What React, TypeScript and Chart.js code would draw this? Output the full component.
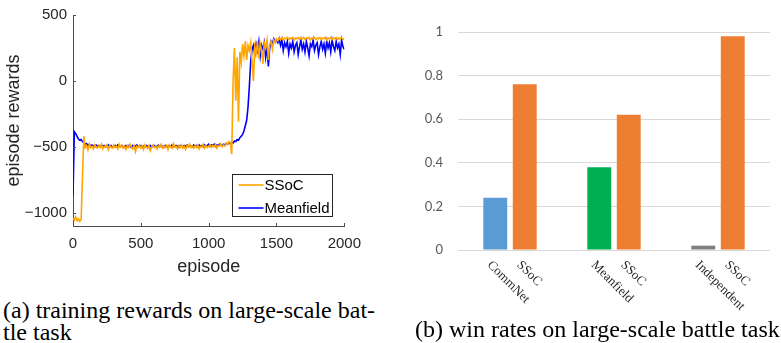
import React, { useEffect, useRef } from 'react';
import { Chart, registerables } from 'chart.js';

Chart.register(...registerables);

// ---------- (a) training rewards ----------
const EPISODE_STEP = 10;
const episodeTicks = [0, 500, 1000, 1500, 2000];
const rewardTicks = [500, 0, -500, -1000];

const ssocRewards = [
  -1040, -1055, -1030, -1060, -1045, -1065, -1050, -720, -420, -505,
  -490, -525, -480, -505, -495, -515, -485, -500, -510, -490,
  -505, -480, -515, -495, -505, -485, -520, -490, -500, -510,
  -485, -505, -495, -515, -480, -500, -490, -510, -495, -520,
  -490, -505, -480, -500, -515, -490, -535, -495, -505, -485,
  -510, -495, -520, -485, -500, -510, -490, -530, -500, -485,
  -505, -495, -515, -490, -500, -480, -510, -495, -505, -490,
  -520, -485, -500, -510, -475, -500, -495, -515, -490, -505,
  -485, -510, -495, -520, -490, -500, -480, -505, -495, -510,
  -490, -505, -485, -515, -495, -500, -480, -510, -490, -505,
  -495, -485, -505, -490, -500, -480, -510, -490, -495, -475,
  -500, -485, -495, -470, -480, -460, -470, -555, -10, 250,
  -150, 180, -310, 220, 140, 280, 190, 300, 160, 270,
  230, 290, 150, 0, 260, 210, 300, 170, 280, 230,
  130, 290, 250, 310, 160, 280, 300, 240, 310, 290,
  320, 305, 325, 315, 330, 310, 325, 320, 330, 315,
  325, 320, 330, 310, 325, 320, 330, 315, 325, 320,
  330, 315, 325, 320, 330, 310, 325, 320, 330, 315,
  325, 320, 330, 315, 325, 320, 330, 310, 325, 320,
  330, 315, 325, 320, 330, 315, 325, 320, 330, 315,
  320,
];

const meanfieldRewards = [
  -870, -385, -400, -420, -440, -450, -445, -460, -470, -480,
  -475, -490, -480, -495, -485, -490, -500, -485, -495, -490,
  -500, -485, -495, -490, -500, -495, -485, -500, -490, -505,
  -495, -490, -500, -485, -495, -500, -490, -505, -495, -490,
  -500, -490, -495, -505, -490, -500, -495, -485, -500, -495,
  -490, -505, -495, -500, -490, -495, -505, -490, -500, -495,
  -490, -500, -495, -485, -500, -490, -495, -505, -490, -500,
  -495, -490, -500, -485, -495, -500, -490, -495, -505, -490,
  -495, -500, -490, -495, -485, -500, -490, -495, -500, -485,
  -495, -490, -500, -485, -495, -490, -500, -485, -495, -490,
  -480, -495, -485, -490, -480, -495, -485, -490, -480, -485,
  -490, -480, -485, -475, -480, -470, -475, -465, -470, -455,
  -460, -445, -450, -430, -420, -405, -380, -340, -300, -200,
  -40, 150, 240, 270, 200, 280, 230, 300, 190, 270,
  240, 290, 180, 260, 110, 250, 300, 280, 320, 300,
  310, 290, 320, 270, 310, 230, 290, 260, 300, 210,
  280, 250, 300, 220, 270, 290, 200, 260, 310, 240,
  280, 220, 300, 250, 190, 280, 260, 310, 230, 270,
  290, 200, 260, 300, 240, 280, 210, 300, 250, 290,
  220, 310, 260, 230, 300, 250, 280, 200, 310, 260,
  240,
];

const lineLabels = ['SSoC', 'Meanfield'];
const lineColors = ['#FFA500', '#0000FF'];

// ---------- (b) win rates ----------
const barGroups = ['CommNet', 'Meanfield', 'Independent'];
const ssocLabel = 'SSoC';
const baselineRates = [0.24, 0.38, 0.02];
const ssocRates = [0.76, 0.62, 0.98];
const baselineColors = ['#5B9BD5', '#00B050', '#7F7F7F'];
const ssocColor = '#ED7D31';
const winTicks = [0, 0.2, 0.4, 0.6, 0.8, 1];

const AX_FONT = '"Liberation Sans", Arial, Helvetica, sans-serif';

const inwardTicks = {
  id: 'inwardTicks',
  afterDraw(chart: any) {
    const { ctx, chartArea, scales } = chart;
    ctx.save();
    ctx.strokeStyle = '#4d4d4d';
    ctx.lineWidth = 1;
    const len = 3;
    scales.x.ticks.forEach((t: any) => {
      const px = Math.round(scales.x.getPixelForValue(t.value)) + 0.5;
      ctx.beginPath();
      ctx.moveTo(px, chartArea.bottom);
      ctx.lineTo(px, chartArea.bottom - len);
      ctx.stroke();
    });
    scales.y.ticks.forEach((t: any) => {
      const py = Math.round(scales.y.getPixelForValue(t.value)) + 0.5;
      ctx.beginPath();
      ctx.moveTo(chartArea.left, py);
      ctx.lineTo(chartArea.left + len, py);
      ctx.stroke();
    });
    ctx.restore();
  },
};

const boxLegend = {
  id: 'boxLegend',
  afterDraw(chart: any) {
    const { ctx, chartArea } = chart;
    const w = 100;
    const h = 42;
    const x0 = Math.round(chartArea.right - 12 - w) + 0.5;
    const y0 = Math.round(chartArea.bottom - 10 - h) + 0.5;
    ctx.save();
    ctx.fillStyle = '#ffffff';
    ctx.fillRect(x0, y0, w, h);
    ctx.strokeStyle = '#262626';
    ctx.lineWidth = 1;
    ctx.strokeRect(x0, y0, w, h);
    ctx.font = `15px ${AX_FONT}`;
    ctx.textBaseline = 'middle';
    ctx.textAlign = 'left';
    chart.data.datasets.forEach((ds: any, i: number) => {
      const y = y0 + 10.5 + i * 23;
      ctx.strokeStyle = ds.borderColor;
      ctx.lineWidth = 1.6;
      ctx.beginPath();
      ctx.moveTo(x0 + 6, y);
      ctx.lineTo(x0 + 31, y);
      ctx.stroke();
      ctx.fillStyle = '#000000';
      ctx.fillText(ds.label, x0 + 32, y + 0.5);
    });
    ctx.restore();
  },
};

const barLabels = {
  id: 'barLabels',
  afterDraw(chart: any) {
    const { ctx, chartArea } = chart;
    ctx.save();
    ctx.font = '13px "Liberation Serif", "Times New Roman", serif';
    ctx.fillStyle = '#262626';
    ctx.textAlign = 'left';
    ctx.textBaseline = 'middle';
    chart.data.datasets.forEach((ds: any, di: number) => {
      const meta = chart.getDatasetMeta(di);
      meta.data.forEach((el: any, j: number) => {
        const text = di === 0 ? barGroups[j] : ssocLabel;
        ctx.save();
        ctx.translate(el.x - 6, chartArea.bottom + 13);
        ctx.rotate(Math.PI / 4);
        ctx.fillText(text, 0, 0);
        ctx.restore();
      });
    });
    ctx.restore();
  },
};

function RewardsChart() {
  const ref = useRef<HTMLCanvasElement>(null);
  useEffect(() => {
    const series = [ssocRewards, meanfieldRewards];
    const chart = new Chart(ref.current as HTMLCanvasElement, {
      type: 'line',
      data: {
        datasets: series.map((vals, i) => ({
          label: lineLabels[i],
          data: vals.map((y, k) => ({ x: k * EPISODE_STEP, y })),
          borderColor: lineColors[i],
          backgroundColor: lineColors[i],
          borderWidth: 1.6,
          pointRadius: 0,
          tension: 0,
          fill: false,
        })),
      },
      options: {
        responsive: false,
        animation: false,
        devicePixelRatio: 1,
        layout: { padding: { top: 12, right: 20, left: 0, bottom: 0 } },
        plugins: { legend: { display: false }, tooltip: { enabled: false } },
        scales: {
          x: {
            type: 'linear',
            min: 0,
            max: 2000,
            afterBuildTicks: (s: any) => {
              s.ticks = episodeTicks.map((v) => ({ value: v }));
            },
            afterFit: (s: any) => {
              s.height = 64;
            },
            grid: { display: true, drawOnChartArea: false, drawTicks: false },
            border: { display: true, color: '#4d4d4d', width: 1 },
            ticks: {
              padding: 9,
              maxRotation: 0,
              color: '#262626',
              font: { family: AX_FONT, size: 15 },
              callback: (v: any) => String(v),
            },
            title: {
              display: true,
              text: 'episode',
              color: '#262626',
              font: { family: AX_FONT, size: 18 },
              padding: { top: 0, bottom: 12 },
            },
          },
          y: {
            type: 'linear',
            min: -1100,
            max: 500,
            afterBuildTicks: (s: any) => {
              s.ticks = rewardTicks.map((v) => ({ value: v }));
            },
            afterFit: (s: any) => {
              s.width = 73;
            },
            grid: { display: true, drawOnChartArea: false, drawTicks: false },
            border: { display: true, color: '#4d4d4d', width: 1 },
            ticks: {
              padding: 6,
              color: '#262626',
              font: { family: AX_FONT, size: 15 },
              callback: (v: any) => String(v).replace('-', '\u2212'),
            },
            title: {
              display: true,
              text: 'episode rewards',
              color: '#262626',
              font: { family: AX_FONT, size: 18 },
              padding: { top: 3, bottom: 0 },
            },
          },
        },
      },
      plugins: [inwardTicks, boxLegend],
    } as any);
    return () => chart.destroy();
  }, []);
  return (
    <canvas
      ref={ref}
      width={370}
      height={290}
      style={{ position: 'absolute', left: 0, top: 0, width: 370, height: 290 }}
    />
  );
}

function WinRateChart() {
  const ref = useRef<HTMLCanvasElement>(null);
  useEffect(() => {
    const chart = new Chart(ref.current as HTMLCanvasElement, {
      type: 'bar',
      data: {
        labels: barGroups,
        datasets: [
          {
            label: 'baseline',
            data: baselineRates,
            backgroundColor: baselineColors,
            categoryPercentage: 0.567,
            barPercentage: 0.81,
          },
          {
            label: ssocLabel,
            data: ssocRates,
            backgroundColor: ssocColor,
            categoryPercentage: 0.567,
            barPercentage: 0.81,
          },
        ],
      },
      options: {
        responsive: false,
        animation: false,
        devicePixelRatio: 1,
        layout: { padding: { top: 32, right: 11, left: 0, bottom: 0 } },
        plugins: { legend: { display: false }, tooltip: { enabled: false } },
        scales: {
          x: {
            type: 'category',
            afterFit: (s: any) => {
              s.height = 93;
            },
            grid: { display: false },
            border: { display: false },
            ticks: { display: false },
          },
          y: {
            type: 'linear',
            min: 0,
            max: 1,
            afterBuildTicks: (s: any) => {
              s.ticks = winTicks.map((v) => ({ value: v }));
            },
            afterFit: (s: any) => {
              s.width = 68;
            },
            grid: { display: true, color: '#d9d9d9', lineWidth: 1, drawTicks: false },
            border: { display: false },
            ticks: {
              padding: 15,
              color: '#595959',
              font: { family: 'Lato, "Liberation Sans", sans-serif', size: 13 },
              callback: (v: any) => String(v),
            },
          },
        },
      },
      plugins: [barLabels],
    } as any);
    return () => chart.destroy();
  }, []);
  return (
    <canvas
      ref={ref}
      width={391}
      height={343}
      style={{ position: 'absolute', left: 390, top: 0, width: 391, height: 343 }}
    />
  );
}

const captionStyle: React.CSSProperties = {
  position: 'absolute',
  fontFamily: '"Liberation Serif", "Times New Roman", serif',
  fontSize: 24,
  lineHeight: '22px',
  color: '#000',
  whiteSpace: 'nowrap',
};

export default function App() {
  return (
    <div
      style={{
        position: 'absolute',
        left: 0,
        top: 0,
        width: 781,
        height: 343,
        background: '#fff',
        overflow: 'hidden',
      }}
    >
      <WinRateChart />
      <RewardsChart />
      <div style={{ ...captionStyle, left: 3, top: 299 }}>
        (a) training rewards on large-scale bat-
        <br />
        tle task
      </div>
      <div style={{ ...captionStyle, left: 415, top: 318 }}>
        (b) win rates on large-scale battle task
      </div>
    </div>
  );
}
